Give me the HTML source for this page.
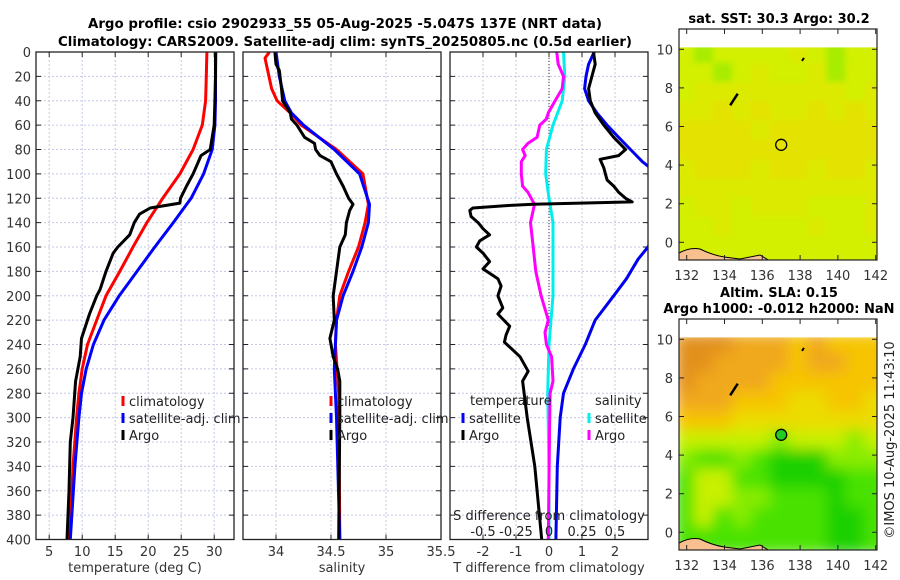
<!DOCTYPE html>
<html><head><meta charset="utf-8"><style>
html,body{margin:0;padding:0;background:#fff;width:900px;height:580px;overflow:hidden}
svg{display:block;font-family:"DejaVu Sans","Liberation Sans",sans-serif}
</style></head><body>
<svg id="fig" width="900" height="580" viewBox="0 0 900 580" xmlns="http://www.w3.org/2000/svg">
<defs>
<clipPath id="c1"><rect x="36" y="52" width="198" height="488"/></clipPath>
<clipPath id="c2"><rect x="243" y="52" width="198" height="488"/></clipPath>
<clipPath id="c3"><rect x="450" y="52" width="198" height="488"/></clipPath>
<clipPath id="cm1"><rect x="679" y="47" width="198" height="213"/></clipPath>
<clipPath id="cm2"><rect x="679" y="337" width="198" height="213"/></clipPath>
<filter id="blurA" x="-5%" y="-5%" width="110%" height="110%"><feGaussianBlur stdDeviation="7"/></filter>
<filter id="blurB" x="-5%" y="-5%" width="110%" height="110%"><feGaussianBlur stdDeviation="3"/></filter>
</defs>
<text x="345" y="28" text-anchor="middle" font-size="13" font-weight="bold" textLength="514" lengthAdjust="spacingAndGlyphs">Argo profile: csio 2902933_55 05-Aug-2025 -5.047S 137E (NRT data)</text>
<text x="345" y="46" text-anchor="middle" font-size="13" font-weight="bold" textLength="574" lengthAdjust="spacingAndGlyphs">Climatology: CARS2009. Satellite-adj clim: synTS_20250805.nc (0.5d earlier)</text>
<g id="panels"></g>
<g id="maps"></g>
<text transform="translate(894,440) rotate(-90)" text-anchor="middle" font-size="13" fill="#222">©IMOS 10-Aug-2025 11:43:10</text>
</svg>
<script>
// ---- data ----
const tDepthClim = [0,20,40,60,80,100,120,140,160,180,200,220,240,260,280,300,340,400];
const tempClim   = [28.9,28.8,28.7,28.2,26.8,24.8,22.2,19.8,17.7,15.7,13.6,12.2,10.8,10.0,9.5,9.15,8.6,8.1];
const tempSat    = [30.25,30.2,30.2,30.1,29.7,28.4,26.5,23.8,21.0,18.3,15.6,13.3,11.7,10.6,9.9,9.5,8.9,8.2];
const tDepthArgo = [0,20,40,60,80,85,90,100,110,120,124,128,133,140,150,160,165,180,195,200,215,235,250,270,300,320,360,400];
const tempArgo   = [30.2,30.2,30.1,30.0,29.4,28.0,27.6,26.8,25.8,24.9,24.8,20.3,18.7,17.9,17.2,15.4,14.7,13.6,12.7,12.2,11.1,9.9,9.7,9.0,8.6,8.2,8.0,7.7];
const sDepthArgo = [0,10,15,30,40,50,55,60,70,75,80,85,90,100,110,120,125,130,140,150,160,180,200,220,235,250,260,270,300,400];
const salArgo    = [33.99,34.0,34.03,34.05,34.06,34.13,34.14,34.19,34.26,34.35,34.36,34.40,34.5,34.55,34.61,34.66,34.70,34.67,34.64,34.63,34.58,34.55,34.52,34.53,34.49,34.52,34.56,34.58,34.58,34.57];
const sDepthClim = [0,5,30,40,50,60,80,100,125,140,160,180,200,220,240,280,400];
const salClim    = [33.94,33.9,33.96,34.01,34.13,34.23,34.55,34.79,34.84,34.81,34.75,34.66,34.58,34.55,34.54,34.57,34.58];
const sDepthSat  = [0,20,40,50,60,80,100,125,140,160,180,200,220,260,300,400];
const salSat     = [34.0,34.03,34.08,34.14,34.25,34.53,34.76,34.85,34.84,34.78,34.70,34.61,34.55,34.53,34.55,34.58];
const dDepthSatT = [0,10,20,30,40,50,60,70,80,90,100,130,150,160,170,186,200,220,240,260,280,300,340,400];
const dTSat      = [1.37,1.2,1.12,1.08,1.2,1.45,1.76,2.11,2.47,2.83,3.3,3.6,3.2,3.0,2.7,2.35,1.96,1.4,1.1,0.74,0.44,0.34,0.25,0.21];
const dDepthArgoT= [0,10,20,30,40,50,60,70,80,85,88,95,100,105,110,115,120,123,125,126,128,130,135,140,145,150,155,160,165,172,178,186,192,200,210,215,225,232,238,250,262,270,300,340,400];
const dTArgo     = [1.35,1.4,1.3,1.2,1.25,1.4,1.66,1.96,2.32,2.11,1.55,1.66,1.71,1.76,1.96,2.11,2.32,2.52,-0.48,-1.29,-2.31,-2.4,-2.36,-2.15,-2.0,-1.8,-2.1,-2.2,-2.0,-1.8,-2.0,-1.55,-1.45,-1.55,-1.4,-1.55,-1.19,-1.3,-1.35,-0.88,-0.63,-0.8,-0.66,-0.43,-0.22];
const dDepthArgoS= [0,10,20,30,40,50,55,60,70,75,80,85,90,100,110,115,125,140,160,180,200,220,230,240,250,270,280,300,400];
const dSArgo     = [0.058,0.07,0.11,0.1,0.046,-0.005,-0.02,-0.07,-0.09,-0.16,-0.2,-0.18,-0.21,-0.21,-0.2,-0.16,-0.11,-0.14,-0.12,-0.1,-0.06,-0.005,-0.03,-0.02,0.02,0.03,0.008,0.005,-0.005];
const dDepthSatS = [0,20,40,60,80,100,120,140,180,200,240,280,340,400];
const dSSat      = [0.11,0.12,0.1,0.03,-0.02,-0.025,0.0,0.03,0.03,0.03,0.0,-0.01,0.0,0.0];
const depthTicks = [0,20,40,60,80,100,120,140,160,180,200,220,240,260,280,300,320,340,360,380,400];
const tempTicks  = [5,10,15,20,25,30];
const salTicks   = [34,34.5,35,35.5];
const salTickLabels = ["34","34.5","35","35.5"];
const dTTicks    = [-2,-1,0,1,2];
const dSTicks    = [-0.5,-0.25,0,0.25,0.5];
const dSTickLabels = ["-0.5","-0.25","0","0.25","0.5"];
const mapLonTicks = [132,134,136,138,140,142];
const mapLatTicks = [0,2,4,6,8,10];
const slaRows = ["OOOoooYoYYY","OOooooYooYY","OooooYYYYYY","oooYYYyyYYy","YYYyyyyyyyy","gggggGgggGg","GHHGHDDDGGG","HggHHDDDDHH","HggGGHHHDHH","HgHGHHHHDDH","HHHHHHHHDDH"];
const sstRows = ["aeaaaabaeaa","aaeabaabeaa","abbbbbbbbab","bbcbcbbcbcb","ccccbcccccc","ccccccccccc","bcccbccbccb","bbbbbbbbbbb","abbabbbaaab","aabaaaabaab","aaaaaaaaaaa"];
const argoLon = 137.0, argoLat = 5.05;

const NS="http://www.w3.org/2000/svg";
function mk(tag, attrs, parent){const e=document.createElementNS(NS,tag);for(const k in attrs)e.setAttribute(k,attrs[k]);parent.appendChild(e);return e;}
const Y0=52, Y1=539.5;
function yD(d){return Y0+(d/400)*(Y1-Y0);}
function lin(d0,d1,r0,r1){return v=>r0+(v-d0)/(d1-d0)*(r1-r0);}
const panels=document.getElementById('panels');

function panel(name,x0,xmin,xmax,ticks,labels,clip,xlabel){
  const g=mk('g',{},panels);
  
  
  const xs=lin(xmin,xmax,x0,x0+198);
  const bg=mk('rect',{x:x0,y:Y0,width:198,height:Y1-Y0,fill:'#fff'},g);
  
  
  const grid=mk('g',{stroke:'#c4c8e6','stroke-width':1,'stroke-dasharray':'2,2'},g);
  
  
  depthTicks.forEach(d=>{if(d>0&&d<400)mk('line',{x1:x0,x2:x0+198,y1:yD(d),y2:yD(d)},grid);});
  ticks.forEach(t=>{const x=xs(t);if(x>x0+1&&x<x0+197)mk('line',{x1:x,x2:x,y1:Y0,y2:Y1},grid);});
  const tk=mk('g',{stroke:'#222','stroke-width':1},g);
  depthTicks.forEach(d=>{mk('line',{x1:x0,x2:x0+5,y1:yD(d),y2:yD(d)},tk);mk('line',{x1:x0+193,x2:x0+198,y1:yD(d),y2:yD(d)},tk);});
  ticks.forEach(t=>{const x=xs(t);mk('line',{x1:x,x2:x,y1:Y1,y2:Y1-5},tk);mk('line',{x1:x,x2:x,y1:Y0,y2:Y0+5},tk);});
  ticks.forEach((t,i)=>{const tx=mk('text',{x:xs(t),y:556,'text-anchor':'middle','font-size':13,fill:'#333'},g);tx.textContent=labels[i];
    
    });
  const xl=mk('text',{x:x0+99,y:572,'text-anchor':'middle','font-size':13,fill:'#333'},g);xl.textContent=xlabel;
  
  
  const data=mk('g',{'clip-path':'url(#'+clip+')',fill:'none','stroke-linejoin':'round'},g);
  return {g,xs,data,x0};
}
function line(p,depths,vals,color,w,nm,xs){
  const f=xs||p.xs;
  const pts=depths.map((d,i)=>f(vals[i]).toFixed(1)+','+yD(d).toFixed(1)).join(' ');
  const pl=mk('polyline',{points:pts,stroke:color,'stroke-width':w},p.data);
  
  
}
function frame(p){const r=mk('rect',{x:p.x0,y:Y0,width:198,height:Y1-Y0,fill:'none',stroke:'#222','stroke-width':1.3},p.g);
  
  }
function legend(p,x,entries,header,hx){
  const lg=mk('g',{},p.g);
  
  
  let y=401;
  if(header){const h=mk('text',{x:hx,y:405,'font-size':13,fill:'#222'},lg);h.textContent=header;y=418;}
  entries.forEach(e=>{
    const m=mk('line',{x1:x,x2:x,y1:y-5,y2:y+5,stroke:e[1],'stroke-width':3},lg);
    
    
    const t=mk('text',{x:x+6,y:y+5,'font-size':13,fill:'#222'},lg);t.textContent=e[0];
    
    
    y+=17;
  });
}

// Panel 1: temperature
const p1=panel('temperature-panel',36,3,33,tempTicks,tempTicks.map(String),'c1','temperature (deg C)');
line(p1,tDepthClim,tempClim,'#ff0000',3,'temperature-climatology-line');
line(p1,tDepthClim,tempSat,'#0000ff',3,'temperature-satellite-line');
line(p1,tDepthArgo,tempArgo,'#000',3,'temperature-argo-line');
depthTicks.forEach(d=>{const t=mk('text',{x:31,y:yD(d)+5,'text-anchor':'end','font-size':13,fill:'#333'},p1.g);t.textContent=d;
  
  });
legend(p1,123,[['climatology','#ff0000'],['satellite-adj. clim','#0000ff'],['Argo','#000']]);
frame(p1);

// Panel 2: salinity
const p2=panel('salinity-panel',243,33.7,35.5,salTicks,salTickLabels,'c2','salinity');
line(p2,sDepthClim,salClim,'#ff0000',3,'salinity-climatology-line');
line(p2,sDepthSat,salSat,'#0000ff',3,'salinity-satellite-line');
line(p2,sDepthArgo,salArgo,'#000',3,'salinity-argo-line');
legend(p2,331,[['climatology','#ff0000'],['satellite-adj. clim','#0000ff'],['Argo','#000']]);
frame(p2);

// Panel 3: differences
const p3=panel('difference-panel',450,-3,3,dTTicks,dTTicks.map(String),'c3','T difference from climatology');
const xsS=lin(-0.75,0.75,450,648);
const zl=mk('line',{x1:xsS(0),x2:xsS(0),y1:Y0,y2:Y1,stroke:'#333','stroke-width':1,'stroke-dasharray':'1,2'},p3.data);


line(p3,dDepthSatS,dSSat,'#00eeee',3,'salinity-diff-satellite-line',xsS);
line(p3,dDepthArgoS,dSArgo,'#ff00ff',3,'salinity-diff-argo-line',xsS);
line(p3,dDepthSatT,dTSat,'#0000ee',3,'temperature-diff-satellite-line');
line(p3,dDepthArgoT,dTArgo,'#000',3,'temperature-diff-argo-line');
legend(p3,463,[['satellite','#0000ff'],['Argo','#000']],'temperature',470);
legend(p3,589,[['satellite','#00eeee'],['Argo','#ff00ff']],'salinity',595);
const st=mk('text',{x:549,y:520,'text-anchor':'middle','font-size':13,fill:'#222'},p3.g);st.textContent='S difference from climatology';


dSTicks.forEach((v,i)=>{const t=mk('text',{x:xsS(v),y:536,'text-anchor':'middle','font-size':13,fill:'#222'},p3.g);t.textContent=dSTickLabels[i];
  
  });
frame(p3);

// Maps
const maps=document.getElementById('maps');
const mlon=lin(132,142,686.7,875.7);
const slaCol={O:'#e2901c',o:'#f0a81a',Y:'#f6c400',y:'#ecdc00',g:'#c8f000',G:'#88ec00',H:'#48e200',D:'#1cd000'};
const sstCol={a:'#d2f000',b:'#dcea00',c:'#e4e200',e:'#a8ec00'};
function drawMap(name,top,rows,cols,filt,clip,title1,title2,filled){
  const g=mk('g',{},maps);
  
  
  const mlat=lin(0,10,top+213.3,top+20.3);
  const frameTop=top;
  const cells=mk('g',{'clip-path':'url(#'+clip+')'},g);
  const cg=mk('g',{filter:'url(#'+filt+')'},cells);
  rows.forEach((r,i)=>{for(let j=0;j<11;j++){const c=cols[r[j]]||cols[Object.keys(cols)[0]];
    const lat=10.1-i, lon=131.6+j;
    mk('rect',{x:mlon(lon)-4,y:mlat(lat)-4,width:18.9+8,height:19.3+8,fill:c},cg);}});
  const land=mk('path',{d:`M679,${top+225} L679,${top+224} Q690,${top+218} 700,${top+220} Q712,${top+226} 724,${top+228} L740,${top+230} L760,${top+226} L770,${top+232} L679,${top+232} Z`,fill:'#f9c08f',stroke:'#000','stroke-width':1},cells);
  
  
  const isl=mk('path',{d:`M${mlon(134.3)},${mlat(7.1)} L${mlon(134.7)},${mlat(7.7)}`,stroke:'#000','stroke-width':2.5},g);
  
  
  mk('path',{d:`M${mlon(138.1)},${mlat(9.4)} l2,-3`,stroke:'#000','stroke-width':2},g);
  mk('rect',{x:679,y:frameTop,width:198,height:mlat(10.1)-frameTop,fill:'#fff'},g);
  const circ=mk('circle',{cx:mlon(argoLon),cy:mlat(argoLat),r:5.5,fill:filled?'#22cc22':'none',stroke:'#000','stroke-width':1.3},g);
  
  
  const fr=mk('rect',{x:679,y:frameTop,width:198,height:231,fill:'none',stroke:'#222','stroke-width':1.2},g);
  
  
  const tk=mk('g',{stroke:'#222','stroke-width':1},g);
  mapLonTicks.forEach(v=>{const x=mlon(v);mk('line',{x1:x,x2:x,y1:frameTop+231,y2:frameTop+226},tk);mk('line',{x1:x,x2:x,y1:frameTop,y2:frameTop+5},tk);
    const t=mk('text',{x:x,y:frameTop+251,'text-anchor':'middle','font-size':13,fill:'#333',stroke:'none'},g);t.textContent=v;
    
    });
  mapLatTicks.forEach(v=>{const y=mlat(v);mk('line',{x1:679,x2:684,y1:y,y2:y},tk);mk('line',{x1:872,x2:877,y1:y,y2:y},tk);
    const t=mk('text',{x:673,y:y+5,'text-anchor':'end','font-size':13,fill:'#333'},g);t.textContent=v;
    
    });
  const t1=mk('text',{x:779,y:title2?frameTop-22:frameTop-6,'text-anchor':'middle','font-size':13,'font-weight':'bold'},g);t1.textContent=title1;
  
  
  if(title2){const t2=mk('text',{x:779,y:frameTop-6,'text-anchor':'middle','font-size':13,'font-weight':'bold'},g);t2.textContent=title2;
    
    }
}
drawMap('sst-map',29,sstRows,sstCol,'blurB','cm1','sat. SST: 30.3 Argo: 30.2',null,false);
drawMap('sla-map',319,slaRows,slaCol,'blurA','cm2','Altim. SLA: 0.15','Argo h1000: -0.012 h2000: NaN',true);
</script>
</body></html>
